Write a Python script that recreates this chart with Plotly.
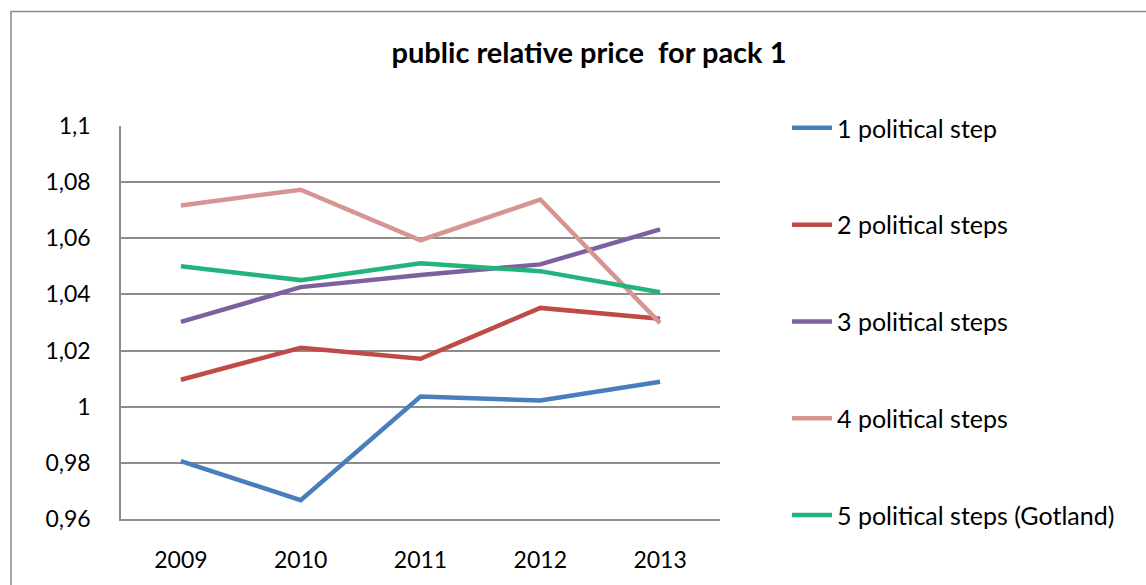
import plotly.graph_objects as go

years = ["2009", "2010", "2011", "2012", "2013"]
series_names = [
    "1 political step",
    "2 political steps",
    "3 political steps",
    "4 political steps",
    "5 political steps (Gotland)",
]
step1 = [0.9806, 0.9667, 1.0036, 1.0022, 1.0089]
step2 = [1.0096, 1.0210, 1.0171, 1.0352, 1.0313]
step3 = [1.0302, 1.0426, 1.0469, 1.0507, 1.0632]
step4 = [1.0717, 1.0773, 1.0593, 1.0738, 1.0298]
step5 = [1.0500, 1.0451, 1.0511, 1.0483, 1.0408]
tick_vals = [0.96, 0.98, 1.0, 1.02, 1.04, 1.06, 1.08, 1.1]

colors = ["#4A7EBB", "#BE4B48", "#7D60A0", "#D69593", "#21B47B"]
all_series = [step1, step2, step3, step4, step5]

FONT = "Lato"
fig = go.Figure()
for i, (name, vals) in enumerate(zip(series_names, all_series)):
    fig.add_trace(go.Scatter(
        x=years, y=vals, name=name, mode="lines",
        line=dict(color=colors[i], width=4.5),
        legendgroup=f"g{i}",
    ))

L, R, T, B = 121, 1146 - 720, 126, 585 - 521
pw, ph = 1146 - L - R, 585 - T - B

fig.update_layout(
    width=1146, height=585,
    margin=dict(l=L, r=R, t=T, b=B),
    paper_bgcolor="white", plot_bgcolor="white",
    separators=", ",
    font=dict(family=FONT, size=23, color="#000000"),
    title=dict(text="<b>public relative price&nbsp; for pack 1</b>",
               x=589 / 1146, xref="container", xanchor="center",
               y=1 - 53 / 585, yref="container", yanchor="middle",
               font=dict(family=FONT, size=29, color="#000000")),
    showlegend=True,
    legend=dict(
        x=(787 - L) / pw, xanchor="left",
        y=1 + (T - 105) / ph, yanchor="top",
        tracegroupgap=61.3,
        font=dict(family=FONT, size=25, color="#000000"),
        bgcolor="rgba(0,0,0,0)",
        itemwidth=40,
        maxheight=700,
    ),
    xaxis=dict(
        type="category", range=[-0.5, 4.5],
        showgrid=False, showline=True, linecolor="#8C8C8C", linewidth=1.5,
        ticks="", ticklabelstandoff=20, zeroline=False,
        tickfont=dict(family=FONT, size=23),
    ),
    yaxis=dict(
        range=[0.96, 1.1], tickvals=tick_vals,
        showgrid=True, gridcolor="#8C8C8C", gridwidth=1.5,
        showline=True, linecolor="#8C8C8C", linewidth=1.5,
        ticks="", ticklabelstandoff=24, zeroline=False,
        tickfont=dict(family=FONT, size=23),
    ),
    shapes=[dict(
        type="rect", xref="paper", yref="paper",
        x0=(11 - L) / pw, x1=1.0 + 600 / pw,
        y0=-1.0, y1=1 + (T - 11) / ph,
        line=dict(color="#8C8C8C", width=1.5), fillcolor="rgba(0,0,0,0)",
        layer="below",
    )],
)

fig.write_html("out.html")
